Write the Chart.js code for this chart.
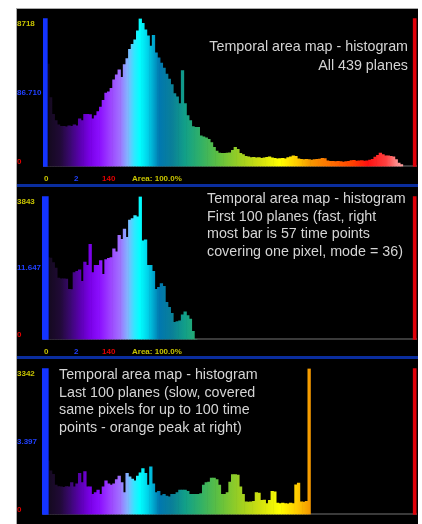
<!DOCTYPE html>
<html>
<head>
<meta charset="utf-8">
<script src="https://cdn.jsdelivr.net/npm/chart.js@4/dist/chart.umd.min.js"></script>
<style>
html, body { margin:0; padding:0; width:422px; height:524px; overflow:hidden; background:#fff; font-family:"Liberation Sans", Arial, sans-serif; }
#frame { position:absolute; left:16px; top:8px; width:401px; height:516px; background:#000; border-top:1px solid #aaa; border-left:1px solid #aaa; }
canvas { position:absolute; left:17px; }
.sep { position:absolute; left:17px; width:401px; height:3px; background:#0a2d9e; }
.status { position:absolute; left:0; width:422px; height:8px; font-size:8px; font-weight:bold; line-height:8px; }
.status span { position:absolute; top:0; }
.note { position:absolute; color:#d4d4d4; font-size:14.3px; white-space:nowrap; }
</style>
</head>
<body>
<div id="frame"></div>

<canvas id="hist-all" width="401" height="167" style="top:9px"></canvas>
<div class="status" style="top:175px">
  <span style="left:44px;color:#c8c400">0</span><span style="left:74px;color:#2040ff">2</span>
  <span style="left:102px;color:#e00000">140</span><span style="left:132px;color:#c8c400">Area: 100.0%</span>
</div>
<div class="sep" style="top:184px"></div>

<canvas id="hist-first" width="401" height="162" style="top:187px"></canvas>
<div class="status" style="top:348px">
  <span style="left:44px;color:#c8c400">0</span><span style="left:74px;color:#2040ff">2</span>
  <span style="left:102px;color:#e00000">140</span><span style="left:132px;color:#c8c400">Area: 100.0%</span>
</div>
<div class="sep" style="top:356px"></div>

<canvas id="hist-last" width="401" height="165" style="top:359px"></canvas>

<div class="note" style="right:14px;top:37px;line-height:19px;text-align:right">Temporal area map - histogram<br>All 439 planes</div>
<div class="note" style="left:207px;top:190px;line-height:17.6px">Temporal area map - histogram<br>First 100 planes (fast, right<br>most bar is 57 time points<br>covering one pixel, mode = 36)</div>
<div class="note" style="left:59px;top:366px;line-height:17.6px">Temporal area map - histogram<br>Last 100 planes (slow, covered<br>same pixels for up to 100 time<br>points - orange peak at right)</div>

<script>
// x categories: number of time points covering a pixel (0..140)
const timePoints = [];
for (var i = 0; i <= 140; i++) timePoints.push(String(i));

// pixel counts per number of time points, starting at 1 time point
const allPlanesCounts = [
  6030,4060,3070,2700,2450,2360,2360,2330,2400,2360,
  2450,2400,2800,2700,3070,3070,3050,2800,3000,3240,
  3500,3900,4330,4400,4600,5100,5400,5700,5260,6000,
  6360,6900,7200,7460,8000,8718,8440,8060,7700,7100,
  7730,6700,6400,6100,5800,5450,5150,4830,4300,4100,
  3700,5650,3700,3000,2700,2350,2300,2300,1800,1750,
  1680,1600,1400,1130,900,780,770,770,780,800,
  950,1130,1000,770,700,600,560,520,540,500,
  520,480,500,540,560,500,470,450,460,480,
  450,520,560,620,600,450,420,400,420,400,
  380,400,420,430,470,460,330,300,300,280,
  300,280,260,280,300,340,360,320,330,340,
  320,330,380,420,550,650,780,700,620,620,
  600,560,400,200,100
];
const first100Counts = [
  2200,2190,2070,1920,1650,1630,1630,1620,1350,1340,
  1800,1830,1870,1560,2080,1990,2560,1800,1990,1990,
  2120,1750,2150,2180,2200,2440,2360,2800,2690,2970,
  2750,3210,3250,3330,3300,3843,2650,2680,1990,1990,
  1830,1345,1400,1500,1430,1000,860,700,460,480,
  500,660,740,640,550,220,1
];
const last100Counts = [
  1230,1000,920,670,640,630,620,640,630,730,
  630,700,940,730,980,630,630,460,500,560,
  460,630,770,700,670,700,800,880,730,500,
  940,860,810,770,880,950,1050,940,670,1090,
  700,500,530,430,460,420,400,460,460,500,
  560,560,560,530,460,460,460,460,480,670,
  730,740,830,830,800,670,460,460,500,740,
  910,912,900,630,460,290,280,290,300,500,
  490,320,330,250,320,530,520,260,250,260,
  250,240,260,250,680,720,290,280,300,3342
];

// y tick labels: bottom, middle, top
const yLabelsAll   = ['0', '86.710', '8718'];
const yLabelsFirst = ['0', '11.647', '3843'];
const yLabelsLast  = ['0', '3.397',  '3342'];
const yTickColors = ['#e00000', '#2040ff', '#c8c400'];

// cursors (low = blue, high = red)
const lowCursor = 0;
const highCursor = 140;

const spectrumStops = [
  [0,'#000000'],[0.016,'#160a22'],[0.043,'#200a36'],[0.07,'#3a0870'],[0.097,'#5a00b0'],
  [0.124,'#7a00e8'],[0.15,'#8c10ff'],[0.177,'#9c40ff'],[0.204,'#a070ff'],[0.226,'#80b8ff'],
  [0.243,'#30e8ff'],[0.258,'#00ffff'],[0.28,'#00d0e8'],[0.31,'#0078b0'],[0.345,'#0a8098'],
  [0.38,'#12a088'],[0.42,'#30b068'],[0.47,'#60c040'],[0.53,'#a0d020'],[0.58,'#d0e010'],
  [0.634,'#ffff00'],[0.68,'#ffcc00'],[0.715,'#f49800'],[0.77,'#ff7000'],[0.83,'#ff4000'],
  [0.87,'#ff1010'],[0.92,'#ff4040'],[0.95,'#ff9090'],[1,'#ffc0c0']
];

function spectrum(context) {
  const chart = context.chart;
  const area = chart.chartArea;
  if (!area) return null;
  if (!chart.$spectrum) {
    const g = chart.ctx.createLinearGradient(area.left, 0, area.right, 0);
    spectrumStops.forEach((s) => g.addColorStop(s[0], s[1]));
    chart.$spectrum = g;
  }
  return chart.$spectrum;
}

function padCounts(counts) {
  var arr = [null];
  counts.forEach((c) => arr.push(c));
  while (arr.length < timePoints.length) arr.push(null);
  return arr;
}

function cursorData(at, value) {
  return timePoints.map((t, i) => (i == at ? value : null));
}

function createHistogram(canvasId, counts, yLabels, blueWidth, padTop) {
  const max = parseInt(yLabels[2]);
  new Chart(document.getElementById(canvasId), {
    type: 'bar',
    data: {
      labels: timePoints,
      datasets: [
        { data: padCounts(counts), backgroundColor: spectrum, barPercentage: 1, categoryPercentage: 1, grouped: false, order: 1 },
        { data: cursorData(lowCursor, max), backgroundColor: '#1434ff', barThickness: blueWidth, grouped: false, order: 0, clip: false },
        { data: cursorData(highCursor, max), backgroundColor: '#e00008', barThickness: 3, grouped: false, order: 0, clip: false }
      ]
    },
    options: {
      responsive: false,
      animation: false,
      layout: { padding: { top: padTop, bottom: 2, left: 0, right: 2 } },
      plugins: { legend: { display: false }, tooltip: { enabled: false } },
      scales: {
        x: {
          grid: { display: false },
          ticks: { display: false },
          border: { color: '#3a3a3a', width: 2 },
          afterFit: (s) => { s.height = 0; }
        },
        y: {
          min: 0,
          max: max,
          grid: { display: false },
          border: { display: false },
          afterFit: (s) => { s.width = 27; },
          afterBuildTicks: (s) => { s.ticks = [{ value: 0 }, { value: max / 2 }, { value: max }]; },
          ticks: {
            crossAlign: 'far',
            padding: 0,
            font: { size: 8, weight: 'bold', family: '"Liberation Sans", Arial, sans-serif' },
            color: (c) => yTickColors[c.index],
            callback: (v, i) => (i == 0 ? [yLabels[0], ''] : i == 2 ? ['', yLabels[2]] : yLabels[1])
          }
        }
      }
    }
  });
}

createHistogram('hist-all', allPlanesCounts, yLabelsAll, 4, 6);
createHistogram('hist-first', first100Counts, yLabelsFirst, 6, 2);
createHistogram('hist-last', last100Counts, yLabelsLast, 6, 3);
</script>
</body>
</html>
